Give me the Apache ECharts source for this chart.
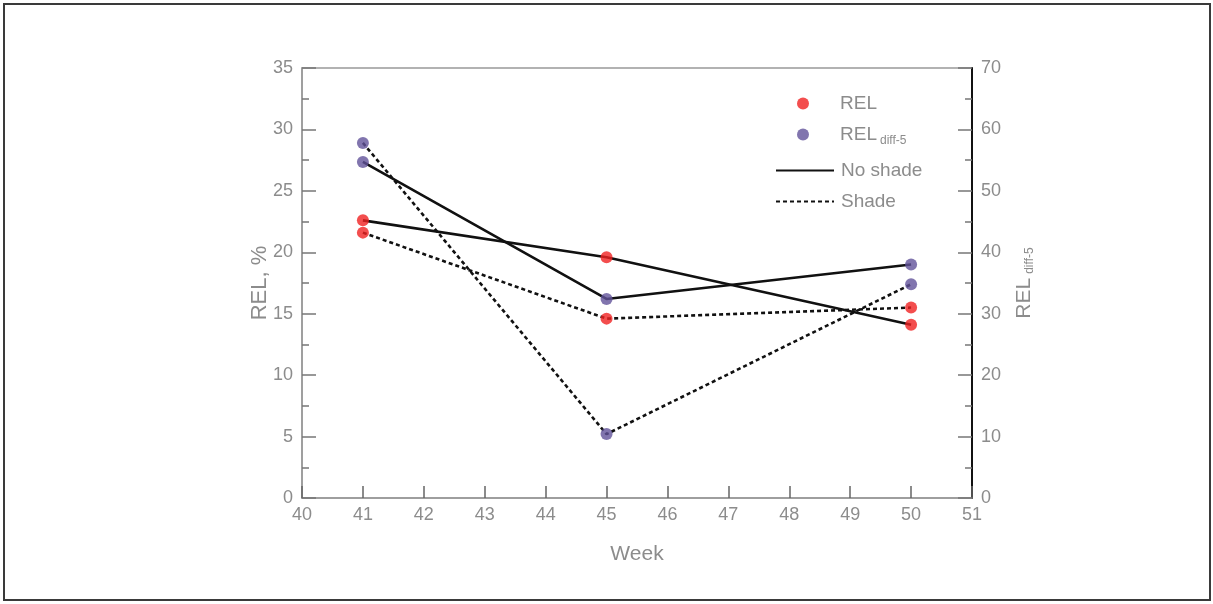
<!DOCTYPE html>
<html>
<head>
<meta charset="utf-8">
<script src="https://cdn.jsdelivr.net/npm/echarts@6/dist/echarts.min.js"></script>
<style>
html,body{margin:0;padding:0;background:#fff;}
#frame{position:absolute;left:3px;top:3px;width:1204px;height:594px;border:2px solid #3a3a3a;}
#chart{position:absolute;left:0;top:0;width:1213px;height:604px;}
</style>
</head>
<body>
<div id="frame"></div>
<div id="chart"></div>
<script>
// ---- data ----
const weeks = [41, 45, 50];
const relNoShade = [22.6, 19.6, 14.1];
const relShade = [21.6, 14.6, 15.5];
const diffNoShade = [54.7, 32.4, 38.0];
const diffShade = [57.8, 10.4, 34.8];
const xTicks = [40, 51, 1];
const leftTicks = [0, 35, 5];
const rightTicks = [0, 70, 10];

const pairs = (arr) => weeks.map((w, i) => [w, arr[i]]);
const relPoints = pairs(relNoShade).concat(pairs(relShade));
const diffPoints = pairs(diffNoShade).concat(pairs(diffShade));

const gray = '#8c8c8c';
const font = 'Liberation Sans, Arial, sans-serif';

const chart = echarts.init(document.getElementById('chart'));
const solid = {color: '#111', width: 2.6, type: 'solid'};
const dashed = {color: '#111', width: 2.6, type: [4, 3]};

chart.setOption({
  animation: false,
  textStyle: {fontFamily: font},
  grid: {left: 302, right: 241, top: 68, bottom: 106, show: true, borderColor: '#999', borderWidth: 1.5},
  legend: [
    {
      data: [{name: 'REL', icon: 'circle'}, {name: 'REL diff-5', icon: 'circle'}],
      orient: 'vertical', left: 792, top: 89, itemWidth: 12, itemHeight: 12, itemGap: 12,
      formatter: n => n === 'REL diff-5' ? 'REL{sub|diff-5}' : n,
      textStyle: {color: gray, fontSize: 19, fontFamily: font, padding: [0, 0, 0, 26],
        rich: {sub: {fontSize: 12, color: gray, padding: [12, 0, 0, 3], fontFamily: font}}}
    },
    {
      data: ['No shade', 'Shade'],
      orient: 'vertical', left: 770, top: 156, itemWidth: 58, itemHeight: 14, itemGap: 12,
      itemStyle: {opacity: 0},
      textStyle: {color: gray, fontSize: 19, fontFamily: font, padding: [0, 0, 0, 2]}
    }
  ],
  xAxis: {
    type: 'value', min: xTicks[0], max: xTicks[1], interval: xTicks[2],
    name: 'Week', nameLocation: 'middle', nameGap: 46, nameMoveOverlap: false,
    nameTextStyle: {color: gray, fontSize: 21, fontFamily: font},
    axisLine: {lineStyle: {color: '#999', width: 1.5}},
    axisTick: {inside: true, length: 12, lineStyle: {color: '#666', width: 1.5}},
    axisLabel: {color: gray, fontSize: 18, margin: 8, fontFamily: font},
    splitLine: {show: false}
  },
  yAxis: [
    {
      type: 'value', min: leftTicks[0], max: leftTicks[1], interval: leftTicks[2],
      name: 'REL, %', nameLocation: 'middle', nameGap: 31, nameRotate: 90, nameMoveOverlap: false,
      nameTextStyle: {color: gray, fontSize: 22, fontFamily: font},
      axisLine: {show: true, lineStyle: {color: '#999', width: 1.5}},
      axisTick: {inside: true, length: 14, lineStyle: {color: '#777', width: 1.5}},
      minorTick: {show: true, splitNumber: 2, length: 7, lineStyle: {color: '#777', width: 1.5}},
      axisLabel: {color: gray, fontSize: 18, margin: 9, fontFamily: font},
      splitLine: {show: false}
    },
    {
      type: 'value', min: rightTicks[0], max: rightTicks[1], interval: rightTicks[2], position: 'right',
      name: 'REL{sub|diff-5}', nameLocation: 'middle', nameGap: 40, nameRotate: 90,
      nameTextStyle: {color: gray, fontSize: 21, fontFamily: font,
        rich: {sub: {fontSize: 12, color: gray, padding: [12, 0, 0, 4], fontFamily: font}}},
      axisLine: {show: true, lineStyle: {color: '#111', width: 2}},
      axisTick: {inside: true, length: 14, lineStyle: {color: '#777', width: 1.5}},
      minorTick: {show: true, splitNumber: 2, length: 7, lineStyle: {color: '#777', width: 1.5}},
      axisLabel: {color: gray, fontSize: 18, margin: 9, fontFamily: font},
      splitLine: {show: false}
    }
  ],
  series: [
    {name: 'No shade', type: 'line', data: pairs(relNoShade), yAxisIndex: 0, symbol: 'none', lineStyle: solid, itemStyle: {color: '#111'}, z: 2},
    {name: 'Shade', type: 'line', data: pairs(relShade), yAxisIndex: 0, symbol: 'none', lineStyle: dashed, itemStyle: {color: '#111'}, z: 2},
    {name: 'No shade', type: 'line', data: pairs(diffNoShade), yAxisIndex: 1, symbol: 'none', lineStyle: solid, itemStyle: {color: '#111'}, z: 2},
    {name: 'Shade', type: 'line', data: pairs(diffShade), yAxisIndex: 1, symbol: 'none', lineStyle: dashed, itemStyle: {color: '#111'}, z: 2},
    {name: 'REL', type: 'scatter', data: relPoints, yAxisIndex: 0, symbol: 'circle', symbolSize: 12, itemStyle: {color: '#f02222'}, z: 5},
    {name: 'REL diff-5', type: 'scatter', data: diffPoints, yAxisIndex: 1, symbol: 'circle', symbolSize: 12, itemStyle: {color: '#62539a'}, z: 5}
  ]
});
</script>
</body>
</html>
